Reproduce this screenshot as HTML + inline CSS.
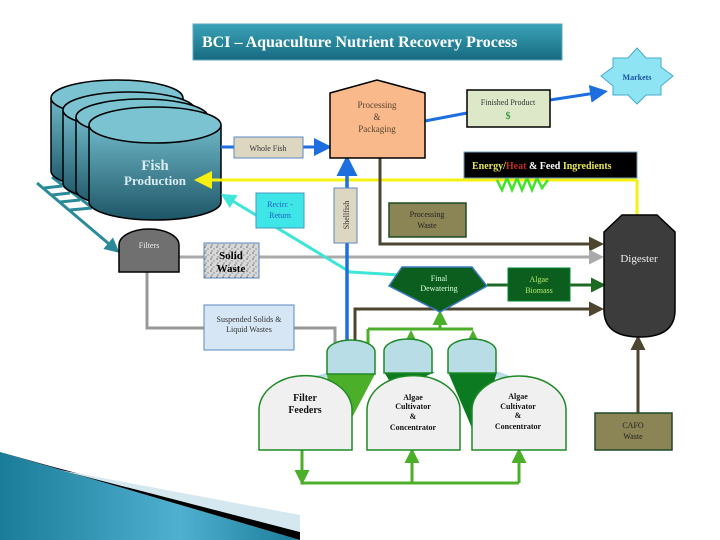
<!DOCTYPE html>
<html><head><style>
html,body{margin:0;padding:0;background:#fff;}
svg{display:block;font-family:"Liberation Serif",serif;}
</style></head><body>
<svg width="720" height="540" viewBox="0 0 720 540" xmlns="http://www.w3.org/2000/svg">
<defs>
<linearGradient id="tg" x1="0" y1="0" x2="0" y2="1"><stop offset="0" stop-color="#3aa3b8"/><stop offset="1" stop-color="#176a80"/></linearGradient>
<linearGradient id="cyl" x1="0" y1="0" x2="0" y2="1"><stop offset="0" stop-color="#6fb8c8"/><stop offset="1" stop-color="#1d5566"/></linearGradient>
<linearGradient id="sw" x1="0" y1="0" x2="1" y2="0"><stop offset="0" stop-color="#1a7c98"/><stop offset="0.6" stop-color="#4fb0d0"/><stop offset="1" stop-color="#1a7c98"/></linearGradient>
<marker id="ab" markerWidth="6" markerHeight="6" refX="4" refY="3" orient="auto" markerUnits="strokeWidth"><path d="M0,0L6,3L0,6Z" fill="#1d6fe0"/></marker>
<marker id="ay" markerWidth="6" markerHeight="6" refX="4" refY="3" orient="auto" markerUnits="strokeWidth"><path d="M0,0L6,3L0,6Z" fill="#f5f00f"/></marker>
<marker id="ac" markerWidth="5" markerHeight="5" refX="3" refY="2.5" orient="auto" markerUnits="strokeWidth"><path d="M0,0L5,2.5L0,5Z" fill="#3ee6d8"/></marker>
<marker id="at" markerWidth="5" markerHeight="5" refX="3" refY="2.5" orient="auto" markerUnits="strokeWidth"><path d="M0,0L5,2.5L0,5Z" fill="#2a8a9a"/></marker>
<marker id="ag" markerWidth="5" markerHeight="5" refX="3" refY="2.5" orient="auto" markerUnits="strokeWidth"><path d="M0,0L5,2.5L0,5Z" fill="#aaa"/></marker>
<marker id="ar" markerWidth="5" markerHeight="5" refX="3" refY="2.5" orient="auto" markerUnits="strokeWidth"><path d="M0,0L5,2.5L0,5Z" fill="#4d4530"/></marker>
<marker id="adg" markerWidth="5" markerHeight="5" refX="3" refY="2.5" orient="auto" markerUnits="strokeWidth"><path d="M0,0L5,2.5L0,5Z" fill="#1e6a25"/></marker>
<marker id="alg" markerWidth="5" markerHeight="5" refX="3" refY="2.5" orient="auto" markerUnits="strokeWidth"><path d="M0,0L5,2.5L0,5Z" fill="#4caf2a"/></marker>
<pattern id="spk" width="6" height="6" patternUnits="userSpaceOnUse"><rect width="6" height="6" fill="#d8d8d8"/><circle cx="1" cy="1" r="0.8" fill="#666"/><circle cx="4" cy="3" r="0.7" fill="#888"/><circle cx="2" cy="5" r="0.6" fill="#555"/></pattern>
</defs>

<!-- swoosh -->
<polygon points="0,452 300,540 0,540" fill="url(#sw)"/>
<polygon points="0,452 50,466 300,532 300,540" fill="#000"/>
<polygon points="60,470 300,515 300,532" fill="#d5e8ef"/>

<!-- title -->
<rect x="193" y="24" width="369" height="36" fill="url(#tg)" stroke="#5aa8c0"/>
<text x="202" y="47" font-size="16" font-weight="bold" fill="#fff">BCI – Aquaculture Nutrient Recovery Process</text>

<!-- ladder -->
<g stroke="#2a8a9a" stroke-width="3" fill="none">
<line x1="37" y1="183" x2="115" y2="249" marker-end="url(#at)"/>
<line x1="52" y1="177" x2="90" y2="206"/>
<line x1="44" y1="188" x2="62" y2="186"/><line x1="52" y1="195" x2="70" y2="193"/><line x1="60" y1="202" x2="80" y2="200"/><line x1="70" y1="210" x2="92" y2="208"/>
</g>

<!-- tanks -->
<g stroke="#000" stroke-width="1.5">
<path d="M51,98 v73 a66,18 0 0 0 132,0 v-73" fill="url(#cyl)"/><ellipse cx="117" cy="98" rx="66" ry="18" fill="#7cc3d2"/>
<path d="M63,110 v73 a66,18 0 0 0 132,0 v-73" fill="url(#cyl)"/><ellipse cx="129" cy="110" rx="66" ry="18" fill="#7cc3d2"/>
<path d="M76,117 v73 a66,18 0 0 0 132,0 v-73" fill="url(#cyl)"/><ellipse cx="142" cy="117" rx="66" ry="18" fill="#7cc3d2"/>
<path d="M89,125 v77 a66,18 0 0 0 132,0 v-77" fill="url(#cyl)"/><ellipse cx="155" cy="125" rx="66" ry="18" fill="#7cc3d2"/>
</g>
<text x="155" y="170" font-size="15" font-weight="bold" fill="#d8ecf0" text-anchor="middle">Fish</text>
<text x="155" y="185" font-size="13" font-weight="bold" fill="#d8ecf0" text-anchor="middle">Production</text>

<!-- lines -->
<line x1="221" y1="147" x2="326" y2="147" stroke="#1d6fe0" stroke-width="3" marker-end="url(#ab)"/>
<polyline points="425,121 467,113" stroke="#1d6fe0" stroke-width="3" fill="none"/>
<line x1="550" y1="100" x2="602" y2="92" stroke="#1d6fe0" stroke-width="3" marker-end="url(#ab)"/>
<polyline points="637,180 637,215" stroke="#f5f00f" stroke-width="3" fill="none"/>
<line x1="637" y1="180" x2="200" y2="180" stroke="#f5f00f" stroke-width="3" marker-end="url(#ay)"/>
<polyline points="497,180 502,190 507,178 512,190 517,178 522,190 527,178 532,190 537,178 542,188 548,180" stroke="#3ee62a" stroke-width="2.5" fill="none"/>
<polyline points="380,158 380,244 598,244" stroke="#4d4530" stroke-width="3" fill="none" marker-end="url(#ar)"/>
<polyline points="179,257 598,257" stroke="#aaa" stroke-width="3" fill="none" marker-end="url(#ag)"/>
<polyline points="400,275 350,272 226,197" stroke="#3ee6d8" stroke-width="3" fill="none" marker-end="url(#ac)"/>
<polyline points="147,272 147,328 335,328 335,367" stroke="#999" stroke-width="3" fill="none" marker-end="url(#ag)"/>
<line x1="347" y1="372" x2="347" y2="162" stroke="#1d6fe0" stroke-width="3.5" marker-end="url(#ab)"/>
<polyline points="355,372 355,309 598,309" stroke="#4d4530" stroke-width="3" fill="none" marker-end="url(#ar)"/>
<line x1="487" y1="285" x2="508" y2="285" stroke="#1e6a25" stroke-width="3"/>
<line x1="570" y1="285" x2="600" y2="285" stroke="#1e6a25" stroke-width="3" marker-end="url(#adg)"/>
<line x1="638" y1="413" x2="638" y2="341" stroke="#4d4530" stroke-width="3" marker-end="url(#ar)"/>
<g stroke="#4caf2a" stroke-width="3" fill="none">
<polyline points="368,329 473,329"/>
<line x1="440" y1="329" x2="440" y2="316" marker-end="url(#alg)"/>
<line x1="368" y1="329" x2="368" y2="366" marker-end="url(#alg)"/>
<line x1="411" y1="372" x2="411" y2="336" marker-end="url(#alg)"/>
<line x1="473" y1="372" x2="473" y2="336" marker-end="url(#alg)"/>
<polyline points="302,450 302,483 519,483"/>
<line x1="302" y1="470" x2="302" y2="479" marker-end="url(#alg)"/>
<line x1="412" y1="483" x2="412" y2="454" marker-end="url(#alg)"/>
<line x1="519" y1="483" x2="519" y2="454" marker-end="url(#alg)"/>
</g>

<!-- Filters -->
<path d="M119,272 V245 a30,16 0 0 1 60,0 V272 Z" fill="#707070" stroke="#000" stroke-width="1.5"/>
<text x="149" y="248" font-size="8" fill="#eee" text-anchor="middle">Filters</text>
<rect x="204" y="243" width="55" height="35" fill="url(#spk)" stroke="#5a8ac0"/>
<text x="231" y="259" font-size="11" font-weight="bold" text-anchor="middle">Solid</text>
<text x="231" y="272" font-size="11" font-weight="bold" text-anchor="middle">Waste</text>
<rect x="204" y="305" width="90" height="45" fill="#d6e6f4" stroke="#5a8ac0"/>
<text x="249" y="322" font-size="8" fill="#333" text-anchor="middle">Suspended Solids &amp;</text>
<text x="249" y="332" font-size="8" fill="#333" text-anchor="middle">Liquid Wastes</text>

<!-- boxes -->
<rect x="234" y="137" width="69" height="21" fill="#ddd6c0" stroke="#5a8ac0"/>
<text x="268" y="151" font-size="8" fill="#333" text-anchor="middle">Whole Fish</text>
<path d="M330,158 V93 L377,80 L425,93 V158 Z" fill="#f9b98a" stroke="#000" stroke-width="1.5"/>
<text x="377" y="108" font-size="9" fill="#543" text-anchor="middle">Processing</text>
<text x="377" y="120" font-size="9" fill="#543" text-anchor="middle">&amp;</text>
<text x="377" y="132" font-size="9" fill="#543" text-anchor="middle">Packaging</text>
<rect x="467" y="90" width="83" height="37" fill="#dce8c8" stroke="#000" stroke-width="1.5"/>
<text x="508" y="105" font-size="8" fill="#333" text-anchor="middle">Finished Product</text>
<text x="508" y="119" font-size="10" fill="#3a9a3a" text-anchor="middle" font-weight="bold">$</text>
<polygon points="637,48 646,58 661,58 661,67 673,76 661,86 661,95 646,95 637,104 628,95 613,95 613,86 601,76 613,67 613,58 628,58" fill="#8fe4f4" stroke="#4ac" />
<text x="637" y="80" font-size="8" font-weight="bold" fill="#1a50a0" text-anchor="middle">Markets</text>
<rect x="464" y="152" width="173" height="26" fill="#000" stroke="#6a9ac0"/>
<text x="472" y="169" font-size="10" font-weight="bold" fill="#e8e850">Energy/<tspan fill="#c03020">Heat</tspan> <tspan fill="#fff">&amp; Feed</tspan> Ingredients</text>
<rect x="334" y="188" width="23" height="55" fill="#ddd6c0" stroke="#5a8ac0"/>
<text transform="translate(349,215) rotate(-90)" font-size="8" fill="#333" text-anchor="middle">Shellfish</text>
<rect x="389" y="203" width="77" height="34" fill="#8b8454" stroke="#1e4a25" stroke-width="1.5"/>
<text x="427" y="217" font-size="8" fill="#222" text-anchor="middle">Processing</text>
<text x="427" y="228" font-size="8" fill="#222" text-anchor="middle">Waste</text>
<rect x="256" y="193" width="48" height="35" fill="#3ee6e8" stroke="#4a9ac0"/>
<text x="280" y="207" font-size="8" fill="#2060c0" text-anchor="middle">Recirc -</text>
<text x="280" y="218" font-size="8" fill="#2060c0" text-anchor="middle">Return</text>

<!-- Digester -->
<path d="M604,232 L622,215 L657,215 L675,232 V310 Q675,337 640,337 Q604,337 604,310 Z" fill="#3c3c3c" stroke="#000" stroke-width="1.5"/>
<text x="639" y="262" font-size="11" fill="#eee" text-anchor="middle">Digester</text>

<!-- Dewatering -->
<path d="M402,267 L472,267 L487,286 L440,312 L389,286 Z" fill="#0b5e1e" stroke="#3a7ac0" stroke-width="1.5"/>
<text x="439" y="281" font-size="8" fill="#dfd" text-anchor="middle">Final</text>
<text x="439" y="291" font-size="8" fill="#dfd" text-anchor="middle">Dewatering</text>
<rect x="508" y="268" width="62" height="33" fill="#0b5e1e" stroke="#083"/>
<text x="539" y="282" font-size="8" fill="#b6e86a" text-anchor="middle">Algae</text>
<text x="539" y="293" font-size="8" fill="#b6e86a" text-anchor="middle">Biomass</text>

<!-- filter feeder assembly -->
<polygon points="300,380 330,372 380,372" fill="#b8dde6"/>
<polygon points="375,374 335,450 327,374" fill="#4caf2a"/>
<polygon points="384,372 435,372 395,390" fill="#0b7a20"/>
<polygon points="445,372 520,380 500,372" fill="#b8dde6"/>
<polygon points="448,372 497,372 477,440" fill="#0b7a20"/>
<g stroke="#1e8a25" stroke-width="1.5">
<path d="M327,374 V352 a24,12 0 0 1 48,0 V374 Z" fill="#b8dde6"/>
<path d="M384,373 V351 a24,12 0 0 1 48,0 V373 Z" fill="#b8dde6"/>
<path d="M448,373 V351 a24,12 0 0 1 48,0 V373 Z" fill="#b8dde6"/>
<path d="M259,450 V410 a46,34 0 0 1 93,0 V450 Z" fill="#f0f0f0"/>
<path d="M367,450 V410 a46,34 0 0 1 93,0 V450 Z" fill="#f0f0f0"/>
<path d="M472,450 V410 a47,34 0 0 1 94,0 V450 Z" fill="#f0f0f0"/>
</g>
<g font-weight="bold" text-anchor="middle" fill="#111">
<text x="305" y="401" font-size="10">Filter</text>
<text x="305" y="413" font-size="10">Feeders</text>
<text x="413" y="400" font-size="8">Algae</text>
<text x="413" y="409" font-size="8">Cultivator</text>
<text x="413" y="419" font-size="8">&amp;</text>
<text x="413" y="430" font-size="8">Concentrator</text>
<text x="518" y="399" font-size="8">Algae</text>
<text x="518" y="409" font-size="8">Cultivator</text>
<text x="518" y="418" font-size="8">&amp;</text>
<text x="518" y="429" font-size="8">Concentrator</text>
</g>

<rect x="595" y="413" width="77" height="37" fill="#8b8454" stroke="#1e4a25" stroke-width="1.5"/>
<text x="633" y="428" font-size="8" fill="#222" text-anchor="middle">CAFO</text>
<text x="633" y="439" font-size="8" fill="#222" text-anchor="middle">Waste</text>
</svg>
</body></html>
